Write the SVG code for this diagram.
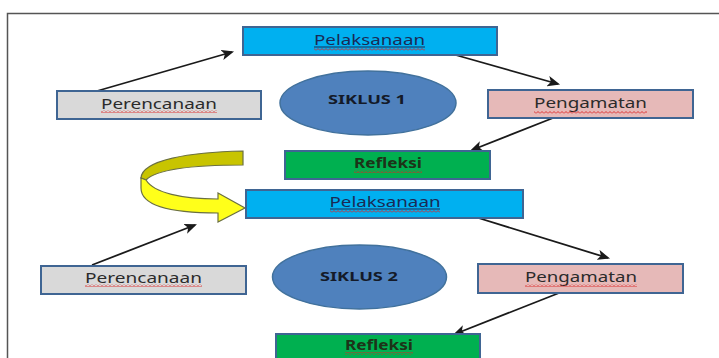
<svg xmlns="http://www.w3.org/2000/svg" width="719" height="358" viewBox="0 0 719 358">
  <defs>
    <style>
      .box { stroke: #3f6593; stroke-width: 2; }
      .blue { fill: #00b0f0; }
      .gray { fill: #d9d9d9; }
      .pink { fill: #e6b9b8; }
      .green { fill: #00b050; }
      .ell { fill: #4f81bd; stroke: #41719c; stroke-width: 1.5; }
      .lbl { font-family: "Noto Sans", "Open Sans", "DejaVu Sans", sans-serif; font-size: 14px; text-anchor: middle; }
      .dk { fill: #1a2a55; }
      .gr { fill: #2b2b2b; }
      .rf { fill: #1d3318; font-weight: bold; }
      .sik { font-family: "Noto Sans", "Open Sans", sans-serif; font-size: 13px; font-weight: bold; fill: #141a28; text-anchor: middle; }
      .conn { stroke: #1a1a1a; stroke-width: 1.8; fill: none; marker-end: url(#ah); }
      .wavy { fill: url(#wv); }
      .uline { stroke: #1a2a55; stroke-width: 1; }
    </style>
    <marker id="ah" viewBox="0 0 12 10" refX="10" refY="5" markerWidth="7" markerHeight="6" orient="auto" markerUnits="strokeWidth">
      <path d="M0,0 L12,5 L0,10 L3,5 Z" fill="#1a1a1a"/>
    </marker>
    <pattern id="wv" width="4" height="3" patternUnits="userSpaceOnUse">
      <path d="M0,2.5 L2,0.5 L4,2.5" fill="none" stroke="#d22" stroke-width="0.9"/>
    </pattern>
  </defs>

  <rect x="0" y="0" width="719" height="358" fill="#ffffff"/>

  <g id="frame">
    <path d="M7.5,358 L7.5,13.5 L719,13.5" fill="none" stroke="#555" stroke-width="1.5"/>
  </g>

  <g id="connectors">
    <line class="conn" x1="97" y1="91" x2="232" y2="52"/>
    <line class="conn" x1="445" y1="52" x2="558" y2="84"/>
    <line class="conn" x1="553" y1="118" x2="472" y2="150"/>
    <line class="conn" x1="92" y1="265" x2="195" y2="225"/>
    <line class="conn" x1="472" y1="216" x2="608" y2="258"/>
    <line class="conn" x1="559" y1="293" x2="455" y2="334"/>
  </g>

  <g id="curved-arrow">
    <path d="M243,151 L243,165 C198,165 158,168 146,180 L141,178 C142,160 190,152 243,151 Z" fill="#c8c400" stroke="#6b7040" stroke-width="1.2"/>
    <path d="M141,178 L146,180 C154,193 182,199 218,199 L218,193 L245,208 L218,222 L218,213 C172,213 141,206 141,188 Z" fill="#ffff1a" stroke="#6b7040" stroke-width="1.2"/>
  </g>

  <g id="pelaksanaan1">
    <rect class="box blue" x="243" y="27" width="254" height="28"/>
    <text class="lbl dk" x="369.5" y="45" textLength="111" lengthAdjust="spacingAndGlyphs">Pelaksanaan</text>
    <line class="uline" x1="314" y1="47" x2="425" y2="47"/>
    <rect class="wavy" x="314" y="48" width="111" height="3"/>
  </g>

  <g id="perencanaan1">
    <rect class="box gray" x="57" y="91" width="204" height="28"/>
    <text class="lbl gr" x="159" y="108.5" textLength="116" lengthAdjust="spacingAndGlyphs">Perencanaan</text>
    <rect class="wavy" x="101" y="110" width="116" height="3"/>
  </g>

  <g id="siklus1">
    <ellipse class="ell" cx="368" cy="103" rx="88" ry="32"/>
    <text class="sik" x="367" y="104" textLength="78" lengthAdjust="spacingAndGlyphs">SIKLUS 1</text>
  </g>

  <g id="pengamatan1">
    <rect class="box pink" x="488" y="90" width="205" height="28"/>
    <text class="lbl gr" x="590.5" y="107.5" textLength="113" lengthAdjust="spacingAndGlyphs">Pengamatan</text>
    <rect class="wavy" x="534" y="111" width="113" height="3"/>
  </g>

  <g id="refleksi1">
    <rect class="box green" x="285" y="151" width="205" height="28"/>
    <text class="lbl rf" x="388" y="168" textLength="68" lengthAdjust="spacingAndGlyphs">Refleksi</text>
    <rect class="wavy" x="354" y="170" width="68" height="3"/>
  </g>

  <g id="pelaksanaan2">
    <rect class="box blue" x="246" y="190" width="277" height="28"/>
    <text class="lbl dk" x="385" y="207" textLength="111" lengthAdjust="spacingAndGlyphs">Pelaksanaan</text>
    <line class="uline" x1="330" y1="209" x2="440" y2="209"/>
    <rect class="wavy" x="330" y="210" width="110" height="3"/>
  </g>

  <g id="perencanaan2">
    <rect class="box gray" x="41" y="266" width="205" height="28"/>
    <text class="lbl gr" x="143.5" y="282.5" textLength="117" lengthAdjust="spacingAndGlyphs">Perencanaan</text>
    <rect class="wavy" x="85" y="284" width="117" height="3"/>
  </g>

  <g id="siklus2">
    <ellipse class="ell" cx="359.5" cy="277" rx="87" ry="32"/>
    <text class="sik" x="359" y="281" textLength="78" lengthAdjust="spacingAndGlyphs">SIKLUS 2</text>
  </g>

  <g id="pengamatan2">
    <rect class="box pink" x="478" y="264" width="205" height="29"/>
    <text class="lbl gr" x="581" y="281.5" textLength="112" lengthAdjust="spacingAndGlyphs">Pengamatan</text>
    <rect class="wavy" x="525" y="284" width="112" height="3"/>
  </g>

  <g id="refleksi2">
    <rect class="box green" x="276" y="334" width="204" height="30"/>
    <text class="lbl rf" x="379" y="350" textLength="68" lengthAdjust="spacingAndGlyphs">Refleksi</text>
    <rect class="wavy" x="345" y="352" width="68" height="3"/>
  </g>
</svg>
